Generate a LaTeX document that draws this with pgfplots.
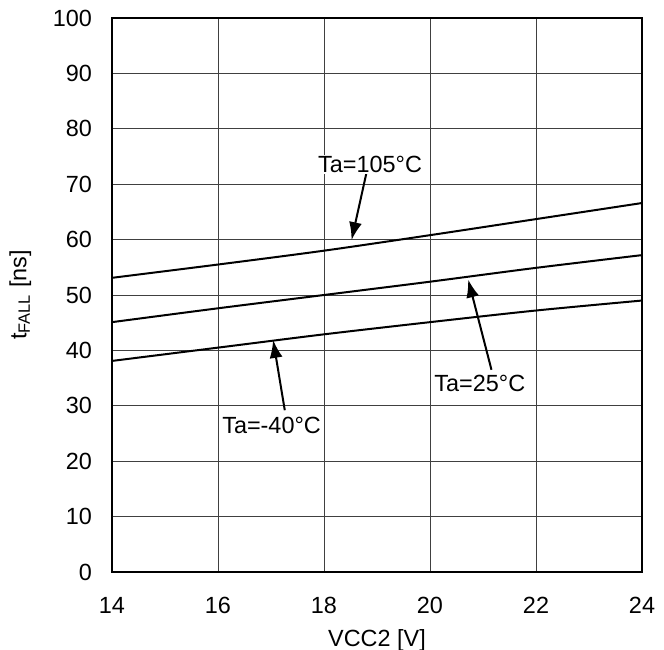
\documentclass[border=0pt]{standalone}
\usepackage{pgfplots}
\pgfplotsset{compat=1.18}
\usepackage{fontspec}
\setmainfont{Liberation Sans}
\usetikzlibrary{arrows.meta}
\newcommand\lbl{\fontsize{23.5}{27}\selectfont}
\begin{document}
\lbl
\begin{tikzpicture}
\useasboundingbox (-112bp,-78bp) rectangle (552bp,572bp);
\begin{axis}[
  at={(0,0)}, anchor=south west,
  scale only axis, width=530bp, height=554bp,
  xmin=14, xmax=24, ymin=0, ymax=100,
  xtick={14,16,...,24}, ytick={0,10,...,100},
  major tick length=0pt,
  grid=major,
  major grid style={line width=0.8bp, black!75},
  axis line style={line width=2.4bp},
  /pgf/number format/assume math mode=true,
  tick label style={font=\lbl},
  xticklabel style={yshift=-17bp},
  yticklabel style={xshift=-12bp},
  xlabel={VCC2 [V]},
  ylabel={t\textsubscript{FALL} [ns]},
  label style={font=\lbl},
  xlabel style={yshift=0bp},
  ylabel style={yshift=6bp},
  clip=false,
]
\addplot[black, line width=2bp, smooth] coordinates {(14,53.1)(16,55.5)(18,58.0)(20,60.8)(22,63.7)(24,66.6)};
\addplot[black, line width=2bp, smooth] coordinates {(14,45.1)(16,47.6)(18,50.0)(20,52.4)(22,54.9)(24,57.2)};
\addplot[black, line width=2bp, smooth] coordinates {(14,38.1)(16,40.5)(18,42.9)(20,45.1)(22,47.2)(24,49.0)};
\draw[line width=2bp, -{Latex[length=18bp,width=13bp]}] (axis cs:18.8,72.0) -- (axis cs:18.52,59.9);
\draw[line width=2bp, -{Latex[length=18bp,width=13bp]}] (axis cs:17.26,29.2) -- (axis cs:17.04,41.9);
\draw[line width=2bp, -{Latex[length=18bp,width=13bp]}] (axis cs:21.16,36.5) -- (axis cs:20.72,52.8);
\node[fill=white, inner sep=1bp] at (axis cs:18.87,73.6) {Ta=105°C};
\node[fill=white, inner sep=1bp] at (axis cs:17.01,26.4) {Ta=-40°C};
\node[fill=white, inner sep=1bp] at (axis cs:20.94,34.1) {Ta=25°C};
\end{axis}
\end{tikzpicture}
\end{document}
